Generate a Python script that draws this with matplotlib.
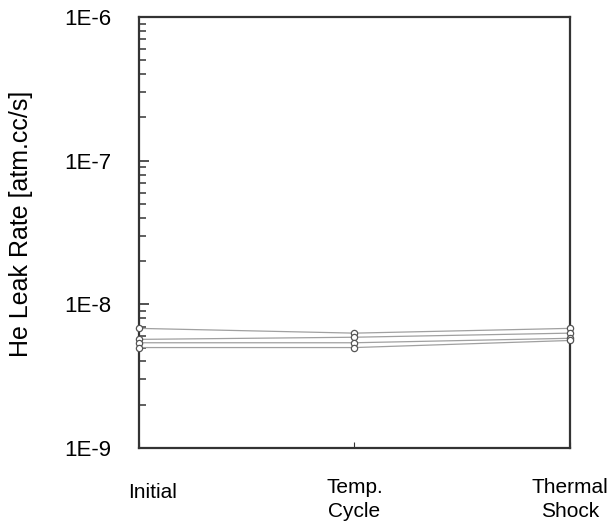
import numpy as np
import matplotlib.pyplot as plt
from matplotlib.transforms import ScaledTranslation

plt.rcParams['font.family'] = ['Liberation Sans', 'DejaVu Sans']

# test stages and leak rate of each sample [atm.cc/s]
stages = ['Initial', 'Temp.\nCycle', 'Thermal\nShock']
sample1 = [6.8e-9, 6.3e-9, 6.8e-9]
sample2 = [5.7e-9, 5.9e-9, 6.3e-9]
sample3 = [5.4e-9, 5.4e-9, 5.8e-9]
sample4 = [5.0e-9, 5.0e-9, 5.6e-9]
samples = [sample1, sample2, sample3, sample4]

fig = plt.figure(figsize=(6.1, 5.25), dpi=100)
ax = fig.add_axes([0.228, 0.1467, 0.706, 0.821])

x = np.arange(len(stages))
for s in samples:
    ax.plot(x, s, '-', color='#a0a0a0', lw=0.9, marker='o', ms=4.5,
            mfc='white', mec='#555555', mew=0.9, zorder=3, clip_on=False)

ax.set_yscale('log')
ax.set_ylim(1e-9, 1e-6)
ax.set_xlim(0, 2)
ax.set_yticks([1e-9, 1e-8, 1e-7, 1e-6])
ax.set_yticklabels(['1E-9', '1E-8', '1E-7', '1E-6'], fontsize=16)
ax.set_xticks(x)
ax.set_xticklabels(stages, fontsize=15, va='center', linespacing=1.35)
ax.tick_params(axis='x', direction='in', length=4, pad=37, color='#333333')
ax.tick_params(axis='y', which='major', direction='in', length=7, width=1.2,
               color='#333333', pad=20)
ax.tick_params(axis='y', which='minor', direction='in', length=5, width=1.2,
               color='#444444')
lbl = ax.get_xticklabels()[0]
lbl.set_transform(lbl.get_transform() + ScaledTranslation(0.13, 0.07, fig.dpi_scale_trans))

for sp in ax.spines.values():
    sp.set_linewidth(1.6)
    sp.set_color('#333333')

ax.set_ylabel('He Leak Rate [atm.cc/s]', fontsize=18)
ax.yaxis.set_label_coords(-0.246, 0.52)

fig.savefig('out.png', dpi=100)
